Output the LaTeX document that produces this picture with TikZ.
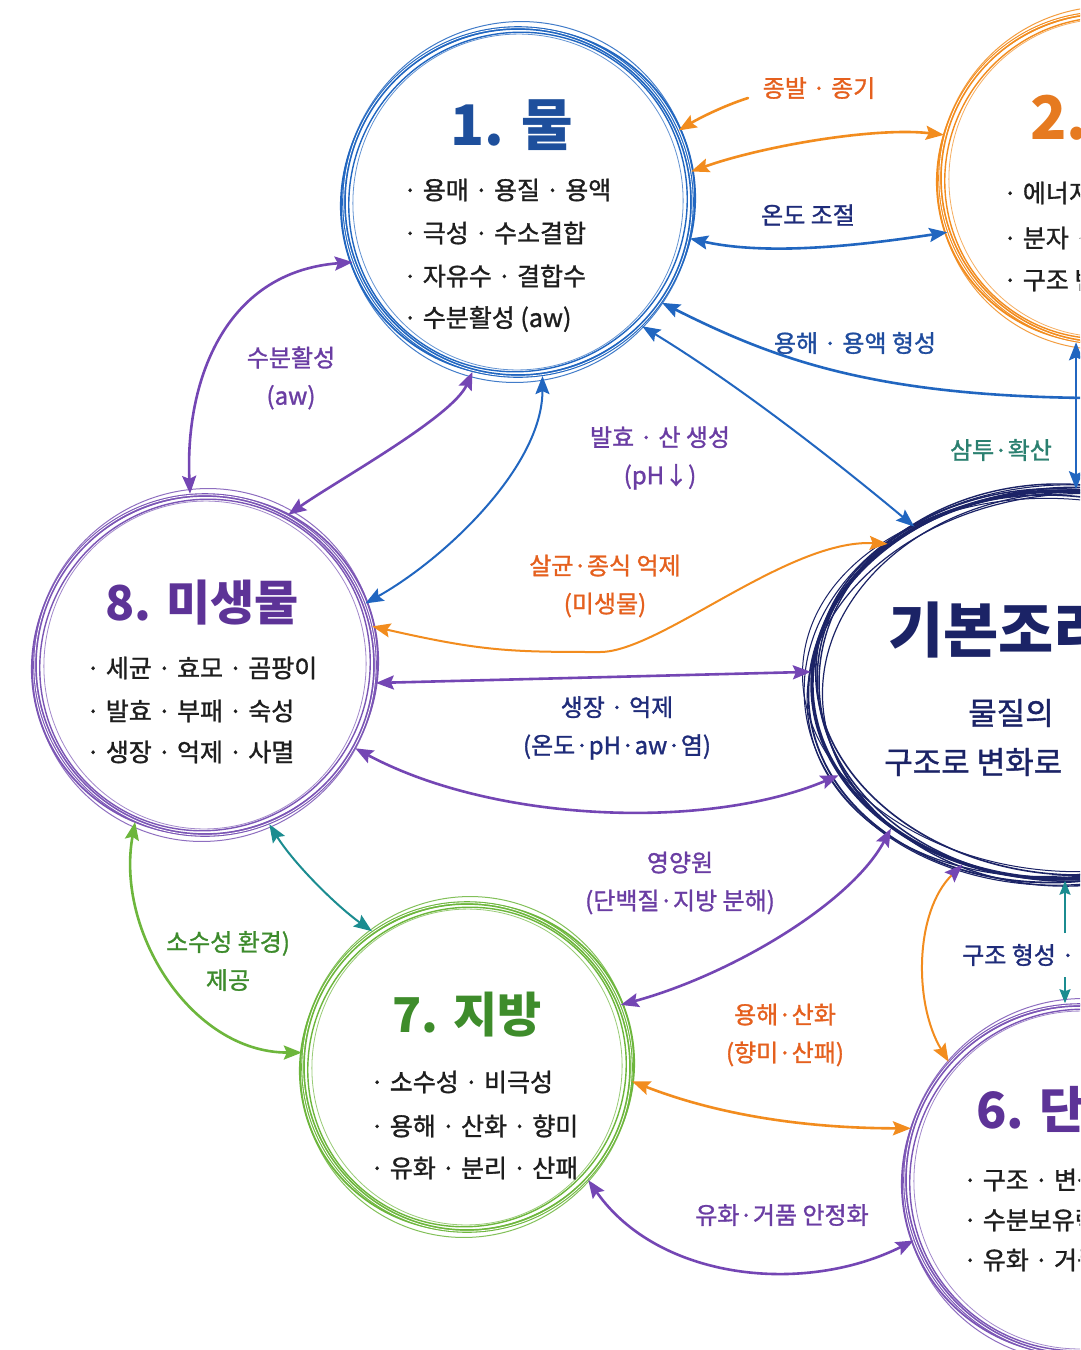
\documentclass[tikz,border=0pt]{standalone}
\usepackage{fontspec}
\setmainfont{Noto Sans CJK KR}
\newfontfamily\semib{Noto Sans CJK KR}[FakeBold=1.2]
\usetikzlibrary{arrows.meta,shapes.geometric,calc}
\definecolor{cBlue}{HTML}{2166C0}
\definecolor{cBlueT}{HTML}{1F4C9E}
\definecolor{cNavy}{HTML}{1B2366}
\definecolor{cNavyT}{HTML}{1F2C7A}
\definecolor{cOr}{HTML}{F28C1E}
\definecolor{cOrT}{HTML}{E5601E}
\definecolor{cPur}{HTML}{7446B4}
\definecolor{cPurRing}{HTML}{7B55B5}
\definecolor{cPurT}{HTML}{6A3DA3}
\definecolor{cTeal}{HTML}{1B8C90}
\definecolor{cTealT}{HTML}{2B8070}
\definecolor{cGr}{HTML}{6DB63C}
\definecolor{cGrT}{HTML}{3D8B2C}
\definecolor{cText}{HTML}{1E1E1E}
\definecolor{cTitleA}{HTML}{1E4F9C}
\definecolor{cTitleB}{HTML}{E67A20}
\definecolor{cTitleP}{HTML}{5D3397}
\definecolor{cTitleG}{HTML}{3E8C2B}
\newcommand\sketchring[4]{%
  \draw[#4, line width=1.8pt, rotate around={25:(#1,#2)}] (#1,#2) ellipse [x radius={#3+4}, y radius={#3-1}];
  \draw[#4, line width=1.4pt, rotate around={-40:(#1,#2)}] (#1,#2) ellipse [x radius={#3-6}, y radius={#3-3}];
  \draw[#4, line width=1pt, opacity=.85, rotate around={70:(#1,#2)}] (#1,#2) ellipse [x radius={#3+7}, y radius={#3+2}];
  \draw[#4, line width=0.8pt, opacity=.7, rotate around={-10:(#1,#2)}] (#1,#2) ellipse [x radius={#3-9}, y radius={#3-6}];
  \draw[white, line width=0.8pt] (#1,#2) circle [radius={#3+0.3}];
}
\begin{document}
\begin{tikzpicture}[x=1pt,y=-1pt,
  ring/.style={circle, inner sep=0pt, minimum size=#1},
  arrowbase/.style={line width=2.6pt, line cap=round,
     arrows={Stealth[length=18pt,width=14pt,inset=3pt]-Stealth[length=18pt,width=14pt,inset=3pt]}},
  oarr/.style={arrowbase, draw=cOr},
  barr/.style={arrowbase, draw=cBlue},
  parr/.style={arrowbase, draw=cPur},
  tarr/.style={arrowbase, draw=cTeal},
  garr/.style={arrowbase, draw=cGr},
  onehead/.style={arrows={-Stealth[length=18pt,width=14pt,inset=3pt]}},
  thinhead/.style={line width=1.8pt, arrows={-Stealth[length=14pt,width=11pt,inset=2pt]}},
  body/.style={anchor=west, inner sep=0pt, text=cText, font=\semib\fontsize{25}{30}\selectfont},
  lbl/.style={inner sep=0pt, align=center, font=\semib\fontsize{24}{38}\selectfont},
  ttl/.style={inner sep=0pt, font=\bfseries\fontsize{#1}{#1}\selectfont},
]
\useasboundingbox (0,0) rectangle (1080,1350);
\fill[white] (0,0) rectangle (1080,1350);
\clip (0,0) rectangle (1080,1350);

% ---- rings ----
\node[ring=348pt, draw=cBlue, line width=3.6pt] (c1) at (518,202) {};
\node[ring=330pt, draw=cOr, line width=3.6pt] (c2) at (1105,178) {};
\node[ellipse, minimum width=500pt, minimum height=388pt, inner sep=0pt, draw=cNavy, line width=3.4pt] (ell) at (1062,685) {};
\node[ring=340pt, draw=cPurRing, line width=3.6pt] (c8) at (205,665) {};
\node[ring=328pt, draw=cGr, line width=3.6pt] (c7) at (467,1067) {};
\node[ring=350pt, draw=cPurRing, line width=3.6pt] (c6) at (1080,1180) {};
\sketchring{518}{202}{174}{cBlue}
\sketchring{1105}{178}{165}{cOr}
\sketchring{205}{665}{170}{cPurRing}
\sketchring{467}{1067}{164}{cGr}
\sketchring{1080}{1180}{175}{cPurRing}
\foreach \dx/\dy/\a/\w in {4/3/5/1.8, -5/2/-4/1.5, 6/-4/8/1.2, -3/-5/-7/1.6, 8/6/3/1.1, -7/7/-2/1.4, 10/-8/-5/1.0, -10/-2/6/1.2}
  \draw[cNavy, line width=\w pt, rotate around={\a:(1062,685)}] (1062,685) ellipse [x radius={250+\dx}, y radius={194+\dy}];

% ---- free ends ----
\coordinate (f1) at (748,98);
\coordinate (r1) at (1090,398);
\coordinate (om) at (600,652);
\coordinate (tA) at (1065,933);
\coordinate (tB) at (1065,977);

% ---- connectors ----
\draw[oarr, onehead] (f1) .. controls +(-25,8) and +(20,-12) .. (c1.24);
\draw[oarr] (c1.10) .. controls +(70,-25) and +(-70,-8) .. (c2.165);
\draw[barr] (c1.-12) .. controls +(80,18) and +(-80,12) .. (c2.-161);
\draw[barr, onehead] (r1) .. controls +(-220,-2) and +(110,55) .. (c1.-35);
\draw[barr] (c2.-100) -- (c2.-100 |- ell.north);
\draw[barr, line width=2pt] (c1.-45) .. controls +(90,55) and +(-90,-75) .. (ell.133);
\draw[barr, line width=2pt] (c1.-82) .. controls +(0,90) and +(80,-45) .. (c8.21);
\draw[parr] (c1.-105) .. controls +(-20,45) and +(50,-35) .. (c8.61);
\draw[parr] (c1.-160) .. controls +(-130,10) and +(-5,-110) .. (c8.95);
\draw[oarr, line width=2pt] (ell.141) .. controls +(-100,-5) and +(60,0) .. (om) .. controls +(-90,0) and +(110,25) .. (c8.13);
\draw[parr] (c8.-6) -- (ell.177);
\draw[parr] (c8.-29) .. controls +(140,75) and +(-130,55) .. (ell.-158);
\draw[tarr, line width=2pt] (c8.-68) .. controls +(25,40) and +(-35,-25) .. (c7.125);
\draw[garr] (c8.-114) .. controls +(-20,110) and +(-110,0) .. (c7.175);
\draw[parr] (ell.-140) .. controls +(-40,75) and +(110,-30) .. (c7.22);
\draw[oarr, line width=2pt, arrows={Stealth[length=18pt,width=14pt,inset=3pt,color=cPur]-Stealth[length=18pt,width=14pt,inset=3pt]}] (ell.-119) .. controls +(-48,47) and +(-35,-58) .. (c6.138);
\draw[draw=cTeal, thinhead] (tA) -- (tA |- ell.south);
\draw[draw=cTeal, thinhead] (tB) -- (tB |- c6.north);
\draw[oarr] (c7.-5) .. controls +(90,35) and +(-100,0) .. (c6.163);
\draw[parr] (c7.-43) .. controls +(70,100) and +(-110,55) .. (c6.-160);

% ---- titles and texts ----
\node[ttl=56, text=cTitleA] (t1) at (512,125) {1. 물};
\node[body] (w1) at (403,190) {· 용매 · 용질 · 용액};
\node[body] (w2) at (403,233) {· 극성 · 수소결합};
\node[body] (w3) at (403,276) {· 자유수 · 결합수};
\node[body] (w4) at (403,319) {· 수분활성 (aw)};

\node[ttl=60, text=cTitleB, anchor=west] (t2) at (1030,118) {2.};
\node[body] (e1) at (1003,193) {· 에너지};
\node[body] (e2) at (1003,238) {· 분자 ·};
\node[body] (e3) at (1003,280) {· 구조 변화};

\node[ttl=60, text=cNavy, anchor=west] (tc) at (888,630) {기본조리};
\node[font=\semib\fontsize{31}{31}\selectfont, text=cNavy, anchor=west, inner sep=0pt] (tc2) at (968,713) {물질의};
\node[font=\semib\fontsize{31}{31}\selectfont, text=cNavy, anchor=west, inner sep=0pt] (tc3) at (884,762) {구조로 변화로};

\node[ttl=48, text=cTitleP] (t8) at (202,603) {8. 미생물};
\node[body] (m1) at (86,668) {· 세균 · 효모 · 곰팡이};
\node[body] (m2) at (86,711) {· 발효 · 부패 · 숙성};
\node[body] (m3) at (86,752) {· 생장 · 억제 · 사멸};

\node[ttl=48, text=cTitleG] (t7) at (467,1015) {7. 지방};
\node[body] (g1) at (370,1082) {· 소수성 · 비극성};
\node[body] (g2) at (370,1126) {· 용해 · 산화 · 향미};
\node[body] (g3) at (370,1168) {· 유화 · 분리 · 산패};

\node[ttl=50, text=cTitleP, anchor=west] (t6) at (976,1110) {6. 단백질};
\node[body] (p1) at (963,1180) {· 구조 · 변성};
\node[body] (p2) at (963,1220) {· 수분보유력};
\node[body] (p3) at (963,1260) {· 유화 · 거품};

% ---- labels ----
\node[lbl, text=cOrT] (L1) at (819,88) {종발 · 종기};
\node[lbl, text=cNavyT] (L2) at (808,215) {온도 조절};
\node[lbl, text=cBlueT] (L3) at (855,343) {용해 · 용액 형성};
\node[lbl, text=cPurT] (L4) at (291,378) {수분활성\\(aw)};
\node[lbl, text=cPurT] (L5) at (660,458) {발효 · 산 생성\\(pH↓)};
\node[lbl, text=cOrT] (L6) at (605,586) {살균·종식 억제\\(미생물)};
\node[lbl, text=cNavyT] (L7) at (617,728) {생장 · 억제\\(온도·pH·aw·염)};
\node[lbl, text=cGrT] (L8) at (228,961) {소수성 환경)\\제공};
\node[lbl, text=cPurT] (L9) at (680,883) {영양원\\(단백질·지방 분해)};
\node[lbl, text=cNavyT, anchor=west] (L10) at (962,955) {구조 형성 ·};
\node[lbl, text=cOrT] (L11) at (785,1035) {용해·산화\\(향미·산패)};
\node[lbl, text=cPurT] (L12) at (782,1215) {유화·거품 안정화};
\node[lbl, text=cTealT] (L13) at (1001,450) {삼투·확산};
\end{tikzpicture}
\end{document}
